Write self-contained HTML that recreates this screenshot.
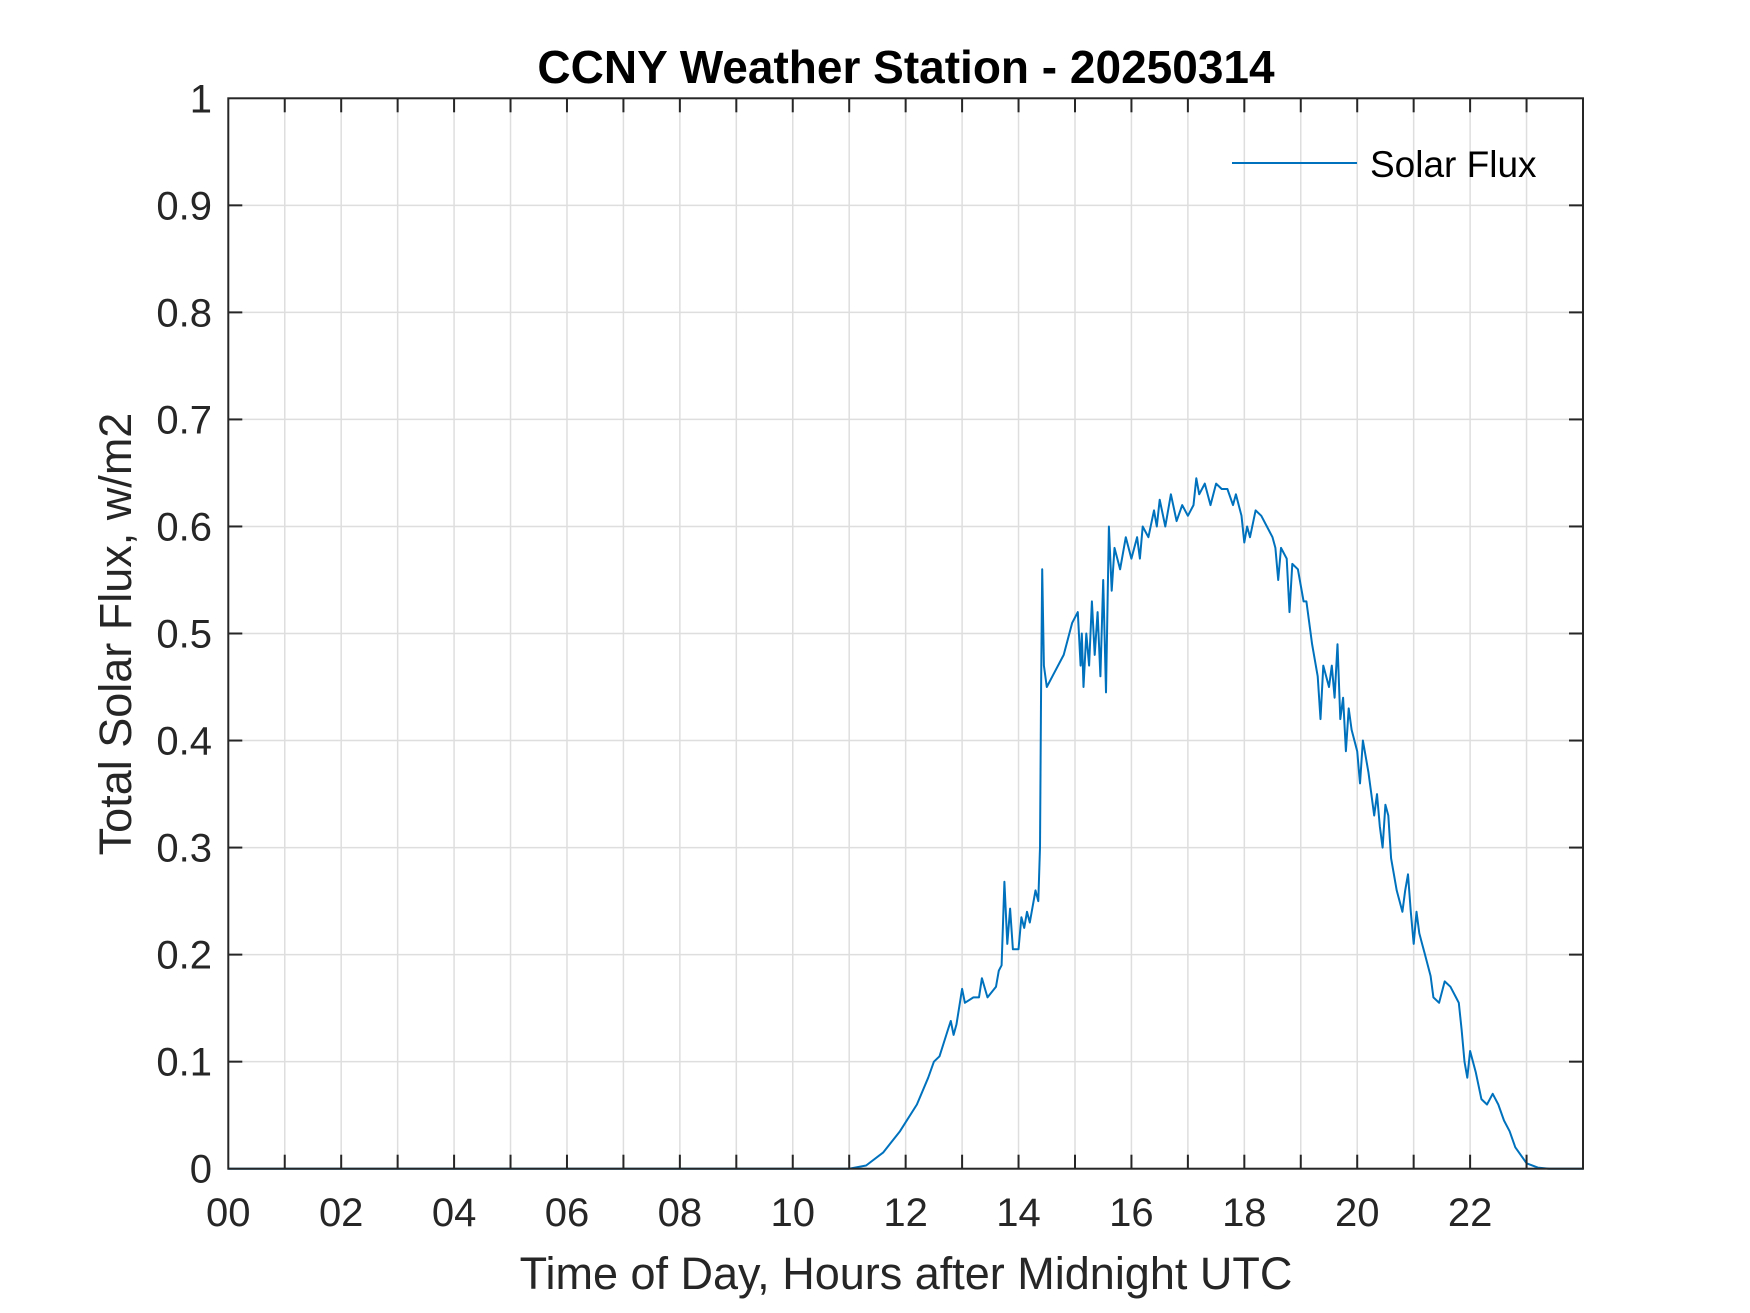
<!DOCTYPE html>
<html><head><meta charset="utf-8"><style>
html,body{margin:0;padding:0;background:#fff;}
svg{display:block;}
text{font-family:"Liberation Sans",Arial,sans-serif;}
</style></head><body>
<svg id="chart" width="1750" height="1313" viewBox="0 0 1750 1313" xmlns="http://www.w3.org/2000/svg">
<rect width="1750" height="1313" fill="#fff"/>
<g id="grid"></g>
<g id="series"></g>
<g id="axes"></g>
<text x="906" y="83" font-size="46" font-weight="bold" text-anchor="middle" fill="#000">CCNY Weather Station - 20250314</text>
<text x="906" y="1289" font-size="45" text-anchor="middle" fill="#262626">Time of Day, Hours after Midnight UTC</text>
<text x="0" y="0" font-size="45" text-anchor="middle" fill="#262626" transform="translate(131,634) rotate(-90)">Total Solar Flux, w/m2</text>
<g>
<line x1="1232" y1="163" x2="1357" y2="163" stroke="#0072BD" stroke-width="2"/>
<text x="1370" y="177" font-size="37" fill="#000">Solar Flux</text>
</g>
</svg>
<script>
const hours = [0,11.0,11.3,11.6,11.9,12.2,12.4,12.5,12.6,12.75,12.8,12.85,12.9,13.0,13.05,13.2,13.3,13.35,13.45,13.6,13.65,13.7,13.75,13.8,13.85,13.9,14.0,14.05,14.1,14.15,14.2,14.3,14.35,14.38,14.4,14.42,14.45,14.5,14.6,14.8,14.95,15.05,15.1,15.12,15.15,15.2,15.25,15.3,15.35,15.4,15.45,15.5,15.55,15.6,15.65,15.7,15.8,15.9,16.0,16.1,16.15,16.2,16.3,16.4,16.45,16.5,16.6,16.7,16.8,16.9,17.0,17.1,17.15,17.2,17.3,17.4,17.5,17.6,17.7,17.8,17.85,17.95,18.0,18.05,18.1,18.2,18.3,18.4,18.5,18.55,18.6,18.65,18.75,18.8,18.85,18.95,19.05,19.1,19.2,19.3,19.35,19.4,19.5,19.55,19.6,19.65,19.7,19.75,19.8,19.85,19.9,20.0,20.05,20.1,20.2,20.3,20.35,20.4,20.45,20.5,20.55,20.6,20.7,20.8,20.85,20.9,20.95,21.0,21.05,21.1,21.15,21.2,21.3,21.35,21.45,21.55,21.65,21.75,21.8,21.85,21.9,21.95,22.0,22.1,22.2,22.3,22.4,22.5,22.6,22.7,22.8,23.0,23.2,23.4,24];
const flux = [0,0,0.003,0.015,0.035,0.06,0.085,0.1,0.105,0.13,0.138,0.125,0.135,0.168,0.155,0.16,0.16,0.178,0.16,0.17,0.185,0.19,0.268,0.21,0.243,0.205,0.205,0.235,0.225,0.24,0.23,0.26,0.25,0.3,0.45,0.56,0.47,0.45,0.46,0.48,0.51,0.52,0.47,0.5,0.45,0.5,0.47,0.53,0.48,0.52,0.46,0.55,0.445,0.6,0.54,0.58,0.56,0.59,0.57,0.59,0.57,0.6,0.59,0.615,0.6,0.625,0.6,0.63,0.605,0.62,0.61,0.62,0.645,0.63,0.64,0.62,0.64,0.635,0.635,0.62,0.63,0.61,0.585,0.6,0.59,0.615,0.61,0.6,0.59,0.58,0.55,0.58,0.57,0.52,0.565,0.56,0.53,0.53,0.49,0.46,0.42,0.47,0.45,0.47,0.44,0.49,0.42,0.44,0.39,0.43,0.41,0.39,0.36,0.4,0.37,0.33,0.35,0.32,0.3,0.34,0.33,0.29,0.26,0.24,0.26,0.275,0.24,0.21,0.24,0.22,0.21,0.2,0.18,0.16,0.155,0.175,0.17,0.16,0.155,0.13,0.1,0.085,0.11,0.09,0.065,0.06,0.07,0.06,0.045,0.035,0.02,0.005,0.001,0,0];
const xTickLabels = ["00","02","04","06","08","10","12","14","16","18","20","22"];
const yTickLabels = ["0","0.1","0.2","0.3","0.4","0.5","0.6","0.7","0.8","0.9","1"];

const L=228.3,R=1583,T=98.3,B=1168.7;
const NS="http://www.w3.org/2000/svg";
function xs(h){return L+(h/24)*(R-L);}
function ys(v){return B-v*(B-T);}
function mk(tag,attrs,parent){const e=document.createElementNS(NS,tag);for(const k in attrs)e.setAttribute(k,attrs[k]);parent.appendChild(e);return e;}
const grid=document.getElementById('grid'),axes=document.getElementById('axes'),series=document.getElementById('series');
for(let h=1;h<24;h++){
  const gl=mk('line',{x1:xs(h),x2:xs(h),y1:T,y2:B,stroke:'#dedede','stroke-width':1.5},grid);
  
  
  const t1=mk('line',{x1:xs(h),x2:xs(h),y1:B,y2:B-14,stroke:'#262626','stroke-width':2},axes);
  
  
  const t2=mk('line',{x1:xs(h),x2:xs(h),y1:T,y2:T+14,stroke:'#262626','stroke-width':2},axes);
  
  
}
xTickLabels.forEach((s,i)=>{
  const t=mk('text',{x:xs(i*2),y:1226,'font-size':40,'text-anchor':'middle',fill:'#262626'},axes);
  t.textContent=s;
  
  
});
yTickLabels.forEach((s,i)=>{
  const v=i/10;
  if(i>0&&i<10){
    const gl=mk('line',{x1:L,x2:R,y1:ys(v),y2:ys(v),stroke:'#dedede','stroke-width':1.5},grid);
    
    
    const a=mk('line',{x1:L,x2:L+14,y1:ys(v),y2:ys(v),stroke:'#262626','stroke-width':2},axes);
    
    
    const b=mk('line',{x1:R,x2:R-14,y1:ys(v),y2:ys(v),stroke:'#262626','stroke-width':2},axes);
    
    
  }
  const t=mk('text',{x:212,y:ys(v)+14,'font-size':40,'text-anchor':'end',fill:'#262626'},axes);
  t.textContent=s;
  
  
});
const box=mk('rect',{x:L,y:T,width:R-L,height:B-T,fill:'none',stroke:'#262626','stroke-width':2},axes);


const pts=hours.map((h,i)=>xs(h).toFixed(1)+','+ys(flux[i]).toFixed(1)).join(' ');
const pl=mk('polyline',{points:pts,fill:'none',stroke:'#0072BD','stroke-width':2,'stroke-linejoin':'round'},series);


</script>
</body></html>
